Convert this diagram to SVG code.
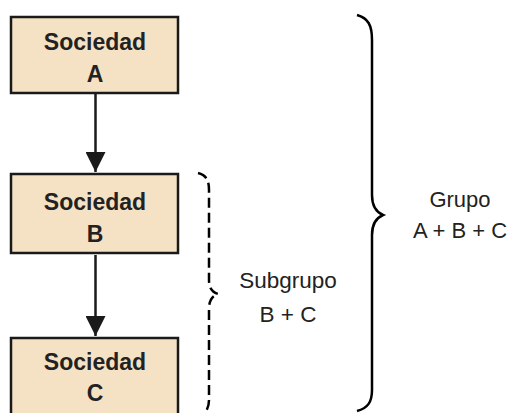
<svg xmlns="http://www.w3.org/2000/svg" width="512" height="413" viewBox="0 0 512 413">
<defs>
<style>
.box{fill:#f5e1c3;stroke:#1a1a1a;stroke-width:2.5}
.bt{font-family:"Liberation Sans",Arial,sans-serif;font-weight:bold;font-size:23px;fill:#222;text-anchor:middle}
.lt{font-family:"Liberation Sans",Arial,sans-serif;font-size:22px;fill:#222;text-anchor:middle}
.ln{stroke:#1a1a1a;stroke-width:2.5;fill:none}
.br{stroke:#000;stroke-width:2.5;fill:none}
</style>
<marker id="ah" markerUnits="userSpaceOnUse" markerWidth="22" markerHeight="20" refX="21" refY="10.5" orient="auto" viewBox="0 0 22 21">
<path d="M0,0 L21,10.5 L0,21 Z" fill="#1a1a1a"/>
</marker>
</defs>
<rect width="512" height="413" fill="#fff"/>
<g id="connectors">
<line class="ln" x1="95.5" y1="94" x2="95.5" y2="172" marker-end="url(#ah)"/>
<line class="ln" x1="95.5" y1="255" x2="95.5" y2="336" marker-end="url(#ah)"/>
</g>
<g id="nodeA">
<rect class="box" x="11" y="17" width="167" height="76"/>
<text class="bt" x="95" y="50">Sociedad</text>
<text class="bt" x="95" y="82">A</text>
</g>
<g id="nodeB">
<rect class="box" x="11" y="174" width="167" height="79"/>
<text class="bt" x="95" y="210">Sociedad</text>
<text class="bt" x="95" y="242">B</text>
</g>
<g id="nodeC">
<rect class="box" x="11" y="338" width="167" height="90"/>
<text class="bt" x="95" y="370">Sociedad</text>
<text class="bt" x="95" y="401">C</text>
</g>
<g id="subgrupo">
<path class="br" stroke-dasharray="10,5" d="M198,173 C206,175 209,180 209,190 L209,280 C209,288 212,292 218,294 C212,296 209,300 209,310 L209,400 C209,406 207,410 205,413"/>
<text class="lt" x="288" y="288" style="font-size:22.5px">Subgrupo</text>
<text class="lt" x="288" y="322" style="font-size:22.5px">B + C</text>
</g>
<g id="grupo">
<path class="br" d="M357,15 C368,18 372,25 372,40 L372,195 C372,205 376,212 383,215 C376,218 372,225 372,235 L372,390 C372,402 368,408 357,411"/>
<text class="lt" x="460" y="207">Grupo</text>
<text class="lt" x="460" y="238">A + B + C</text>
</g>
</svg>
